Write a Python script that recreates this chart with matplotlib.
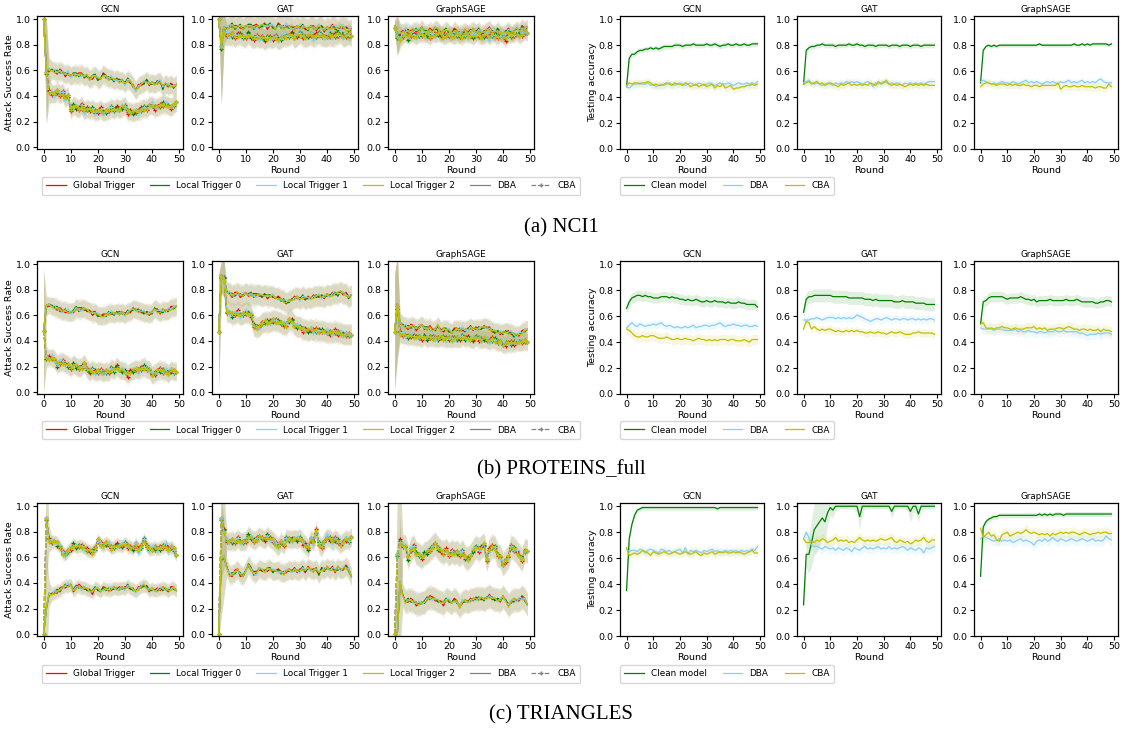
import numpy as np
import matplotlib
matplotlib.use('Agg')
import matplotlib.pyplot as plt
from matplotlib.lines import Line2D

W, H = 1123, 729
rounds = np.arange(50)
models = ['GCN', 'GAT', 'GraphSAGE']
trigger_names = ['Global Trigger', 'Local Trigger 0', 'Local Trigger 1', 'Local Trigger 2']
trigger_colors = ['#ff0000', '#008000', '#87cefa', '#bfbf00']
captions = ['(a) NCI1', '(b) PROTEINS_full', '(c) TRIANGLES']

# small per-trigger deviations around each group's mean curve (read visually)
off_red = [0.00,0.01,-0.01,0.01,0.00,-0.01,0.02,0.01,-0.02,0.00, 0.01,-0.01,0.00,0.02,0.01,-0.01,0.00,0.01,-0.02,0.01,
           0.00,-0.01,0.02,0.01,0.00,-0.01,0.01,0.00,0.02,-0.01, 0.01,0.00,-0.01,0.01,0.00,0.02,-0.01,0.00,0.01,-0.02,
           0.01,0.00,0.02,-0.01,0.01,0.00,-0.01,0.02,0.01,0.00]
off_green = [0.00,-0.01,0.01,0.00,0.01,0.02,-0.01,0.00,0.01,-0.01, 0.00,0.01,0.02,-0.01,0.00,0.01,-0.01,0.00,0.01,0.02,
             -0.01,0.00,0.01,-0.01,0.02,0.00,-0.01,0.01,0.00,0.01, -0.01,0.02,0.00,-0.01,0.01,0.00,0.01,-0.01,0.02,0.00,
             -0.01,0.01,0.00,0.01,-0.02,0.01,0.00,0.01,-0.01,0.00]
off_blue = [0.00,0.00,0.01,-0.01,0.02,0.00,0.01,-0.01,0.00,0.02, -0.01,0.00,0.01,0.00,-0.02,0.01,0.01,-0.01,0.00,0.01,
            0.02,0.00,-0.01,0.00,0.01,0.02,0.00,-0.01,0.01,0.00, -0.02,0.01,0.01,0.00,-0.01,0.01,0.00,0.02,-0.01,0.01,
            0.00,-0.01,0.01,0.02,0.00,-0.01,0.02,0.00,0.01,0.00]
off_yellow = [0.00,0.01,0.00,0.00,-0.01,0.01,0.00,0.01,0.00,-0.01, 0.01,0.00,-0.01,0.01,0.00,0.00,0.01,-0.01,0.01,0.00,
              0.01,-0.01,0.00,0.01,-0.01,0.00,0.01,0.00,-0.01,0.01, 0.00,-0.01,0.01,0.00,0.01,-0.01,0.00,0.01,0.00,-0.01,
              0.01,0.00,-0.01,0.00,0.01,0.01,0.00,-0.01,0.00,0.00]

# ---------------- NCI1 ----------------
nci_gcn_dba = [1.00,0.60,0.60,0.60,0.59,0.58,0.59,0.58,0.57,0.58, 0.55,0.57,0.56,0.56,0.57,0.55,0.56,0.53,0.55,0.55,
               0.53,0.54,0.56,0.55,0.53,0.54,0.52,0.53,0.51,0.52, 0.50,0.52,0.51,0.48,0.44,0.47,0.49,0.50,0.51,0.50,
               0.50,0.49,0.50,0.51,0.47,0.49,0.48,0.48,0.47,0.49]
nci_gcn_cba = [1.00,0.58,0.43,0.42,0.41,0.44,0.41,0.42,0.38,0.40, 0.30,0.32,0.31,0.30,0.32,0.28,0.30,0.29,0.29,0.28,
               0.28,0.29,0.27,0.28,0.29,0.30,0.29,0.30,0.30,0.31, 0.31,0.28,0.28,0.27,0.28,0.28,0.29,0.30,0.30,0.32,
               0.33,0.31,0.31,0.32,0.33,0.33,0.32,0.31,0.33,0.35]
nci_gat_dba = [1.00,0.80,0.93,0.92,0.94,0.95,0.93,0.94,0.95,0.93, 0.94,0.95,0.94,0.93,0.95,0.94,0.95,0.96,0.94,0.95,
               0.94,0.93,0.95,0.94,0.93,0.95,0.94,0.93,0.92,0.94, 0.93,0.94,0.93,0.92,0.94,0.93,0.92,0.94,0.93,0.92,
               0.93,0.92,0.94,0.93,0.92,0.93,0.94,0.92,0.91,0.92]
nci_gat_cba = [1.00,0.78,0.90,0.88,0.87,0.88,0.86,0.87,0.88,0.86, 0.87,0.88,0.86,0.85,0.86,0.85,0.86,0.84,0.85,0.86,
               0.85,0.86,0.84,0.85,0.87,0.86,0.87,0.88,0.86,0.87, 0.88,0.87,0.86,0.87,0.88,0.86,0.87,0.88,0.87,0.86,
               0.87,0.88,0.86,0.87,0.88,0.89,0.86,0.87,0.88,0.87]
nci_sage_dba = [0.95,0.88,0.89,0.90,0.91,0.90,0.89,0.91,0.92,0.91, 0.93,0.90,0.89,0.91,0.90,0.93,0.92,0.89,0.90,0.91,
                0.90,0.89,0.91,0.90,0.88,0.90,0.91,0.89,0.90,0.92, 0.90,0.91,0.89,0.90,0.91,0.92,0.90,0.89,0.91,0.90,
                0.88,0.90,0.91,0.89,0.90,0.92,0.91,0.93,0.92,0.94]
nci_sage_cba = [0.93,0.86,0.85,0.87,0.88,0.86,0.88,0.87,0.86,0.88, 0.89,0.87,0.88,0.86,0.88,0.87,0.89,0.88,0.86,0.87,
                0.88,0.87,0.86,0.88,0.87,0.86,0.88,0.87,0.88,0.86, 0.87,0.88,0.86,0.87,0.88,0.86,0.88,0.87,0.86,0.88,
                0.87,0.85,0.88,0.87,0.88,0.89,0.87,0.88,0.90,0.89]
nci_asr_sd = [0.07, 0.08, 0.06]
nci_asr_sd_early = [[0.02, 0.40, 0.10], [0.02, 0.45, 0.12], [0.05, 0.15, 0.08]]

nci_gcn_clean = [0.48,0.70,0.73,0.73,0.75,0.76,0.76,0.77,0.77,0.78, 0.77,0.78,0.77,0.78,0.79,0.79,0.79,0.79,0.80,0.80,
                 0.80,0.79,0.80,0.80,0.80,0.81,0.80,0.80,0.80,0.80, 0.81,0.80,0.80,0.81,0.80,0.79,0.80,0.80,0.81,0.80,
                 0.80,0.81,0.80,0.80,0.81,0.80,0.80,0.81,0.81,0.81]
nci_gcn_acc_dba = [0.48,0.47,0.49,0.50,0.50,0.51,0.50,0.50,0.51,0.49, 0.50,0.48,0.49,0.50,0.49,0.50,0.51,0.50,0.49,0.50,
                   0.51,0.50,0.49,0.50,0.51,0.50,0.49,0.51,0.50,0.49, 0.50,0.51,0.50,0.49,0.50,0.51,0.50,0.50,0.51,0.50,
                   0.49,0.50,0.51,0.50,0.50,0.51,0.50,0.51,0.50,0.52]
nci_gcn_acc_cba = [0.49,0.51,0.50,0.51,0.51,0.50,0.51,0.51,0.52,0.51, 0.49,0.50,0.49,0.49,0.50,0.51,0.50,0.49,0.51,0.50,
                   0.50,0.49,0.51,0.50,0.48,0.49,0.50,0.48,0.49,0.50, 0.48,0.49,0.50,0.47,0.49,0.48,0.50,0.47,0.48,0.49,
                   0.46,0.47,0.47,0.48,0.48,0.49,0.49,0.50,0.49,0.50]
nci_gat_clean = [0.50,0.76,0.78,0.79,0.79,0.80,0.80,0.81,0.80,0.80, 0.80,0.80,0.79,0.80,0.80,0.80,0.80,0.81,0.80,0.80,
                 0.81,0.80,0.80,0.79,0.80,0.80,0.80,0.79,0.80,0.80, 0.80,0.80,0.79,0.80,0.80,0.80,0.79,0.80,0.80,0.80,
                 0.79,0.80,0.80,0.80,0.79,0.80,0.80,0.80,0.80,0.80]
nci_gat_acc_dba = [0.51,0.52,0.53,0.51,0.50,0.51,0.50,0.49,0.50,0.51, 0.50,0.49,0.51,0.50,0.51,0.50,0.52,0.51,0.52,0.51,
                   0.52,0.51,0.50,0.51,0.52,0.51,0.48,0.51,0.50,0.51, 0.52,0.51,0.50,0.51,0.50,0.51,0.50,0.49,0.51,0.50,
                   0.51,0.50,0.51,0.50,0.51,0.50,0.51,0.52,0.52,0.52]
nci_gat_acc_cba = [0.50,0.51,0.52,0.50,0.51,0.52,0.50,0.51,0.49,0.50, 0.51,0.50,0.49,0.48,0.50,0.49,0.50,0.51,0.49,0.50,
                   0.49,0.50,0.49,0.50,0.49,0.51,0.50,0.49,0.52,0.50, 0.51,0.53,0.50,0.49,0.50,0.49,0.50,0.49,0.48,0.49,
                   0.50,0.49,0.50,0.49,0.50,0.49,0.50,0.49,0.49,0.49]
nci_sage_clean = [0.51,0.76,0.79,0.80,0.79,0.80,0.79,0.80,0.80,0.80, 0.80,0.80,0.80,0.80,0.80,0.80,0.80,0.80,0.80,0.80,
                  0.80,0.80,0.81,0.80,0.80,0.80,0.80,0.80,0.80,0.80, 0.80,0.80,0.80,0.80,0.80,0.81,0.80,0.80,0.81,0.80,
                  0.81,0.80,0.81,0.81,0.81,0.81,0.81,0.81,0.80,0.81]
nci_sage_acc_dba = [0.52,0.53,0.52,0.51,0.50,0.51,0.50,0.51,0.52,0.51, 0.51,0.50,0.52,0.51,0.50,0.51,0.52,0.53,0.51,0.52,
                    0.51,0.52,0.51,0.50,0.51,0.52,0.51,0.52,0.51,0.50, 0.52,0.51,0.52,0.53,0.51,0.52,0.51,0.52,0.53,0.51,
                    0.52,0.51,0.52,0.51,0.53,0.54,0.52,0.51,0.51,0.51]
nci_sage_acc_cba = [0.48,0.50,0.51,0.51,0.50,0.50,0.49,0.50,0.50,0.50, 0.49,0.50,0.49,0.50,0.49,0.49,0.50,0.49,0.49,0.48,
                    0.49,0.49,0.48,0.49,0.49,0.49,0.49,0.49,0.49,0.51, 0.46,0.48,0.49,0.48,0.48,0.49,0.48,0.48,0.49,0.48,
                    0.48,0.48,0.48,0.47,0.48,0.48,0.47,0.47,0.50,0.48]
nci_acc_sd = [[0.02, 0.03, 0.03], [0.02, 0.03, 0.03], [0.015, 0.025, 0.03]]

# ---------------- PROTEINS_full ----------------
pro_gcn_dba = [0.48,0.67,0.68,0.67,0.66,0.65,0.64,0.63,0.64,0.63, 0.62,0.63,0.65,0.64,0.65,0.65,0.64,0.63,0.62,0.61,
               0.60,0.60,0.59,0.60,0.61,0.62,0.61,0.62,0.61,0.62, 0.61,0.62,0.63,0.65,0.64,0.63,0.63,0.62,0.61,0.62,
               0.62,0.65,0.63,0.62,0.64,0.63,0.64,0.65,0.66,0.67]
pro_gcn_cba = [0.48,0.27,0.26,0.27,0.25,0.22,0.23,0.23,0.22,0.21, 0.20,0.21,0.20,0.19,0.19,0.22,0.18,0.16,0.17,0.16,
               0.16,0.16,0.15,0.16,0.16,0.18,0.17,0.19,0.18,0.17, 0.15,0.14,0.16,0.17,0.18,0.17,0.18,0.19,0.18,0.17,
               0.14,0.15,0.16,0.17,0.16,0.16,0.14,0.17,0.16,0.16]
pro_gat_dba = [0.47,0.90,0.89,0.78,0.77,0.75,0.76,0.77,0.76,0.76, 0.77,0.76,0.76,0.75,0.76,0.76,0.75,0.76,0.75,0.74,
               0.75,0.74,0.73,0.72,0.71,0.70,0.71,0.72,0.73,0.74, 0.73,0.74,0.73,0.74,0.73,0.74,0.75,0.75,0.74,0.75,
               0.76,0.75,0.76,0.77,0.77,0.78,0.77,0.76,0.74,0.76]
pro_gat_cba = [0.47,0.90,0.88,0.63,0.62,0.61,0.61,0.62,0.60,0.61, 0.63,0.61,0.60,0.52,0.50,0.51,0.54,0.55,0.54,0.55,
               0.56,0.55,0.55,0.54,0.53,0.52,0.56,0.55,0.53,0.51, 0.50,0.49,0.49,0.48,0.49,0.48,0.48,0.47,0.48,0.47,
               0.47,0.47,0.46,0.47,0.46,0.46,0.45,0.45,0.45,0.45]
pro_sage_dba = [0.47,0.68,0.54,0.52,0.51,0.50,0.51,0.51,0.50,0.51, 0.52,0.50,0.49,0.50,0.48,0.49,0.52,0.48,0.49,0.48,
                0.48,0.47,0.48,0.49,0.48,0.49,0.48,0.49,0.50,0.49, 0.50,0.49,0.50,0.51,0.50,0.49,0.48,0.47,0.46,0.47,
                0.46,0.47,0.46,0.46,0.45,0.44,0.45,0.46,0.48,0.49]
pro_sage_cba = [0.47,0.66,0.46,0.45,0.44,0.44,0.44,0.43,0.43,0.43, 0.43,0.43,0.42,0.43,0.42,0.42,0.42,0.43,0.42,0.42,
                0.42,0.41,0.42,0.42,0.42,0.43,0.42,0.42,0.42,0.41, 0.42,0.42,0.41,0.42,0.41,0.40,0.41,0.40,0.39,0.39,
                0.38,0.38,0.38,0.38,0.38,0.39,0.39,0.39,0.40,0.39]
pro_asr_sd = [0.07, 0.08, 0.07]
pro_asr_sd_early = [[0.48, 0.08, 0.06], [0.45, 0.12, 0.15], [0.45, 0.40, 0.08]]

pro_gcn_clean = [0.66,0.71,0.74,0.75,0.76,0.76,0.75,0.76,0.75,0.75, 0.74,0.74,0.74,0.75,0.75,0.75,0.74,0.75,0.74,0.74,
                 0.73,0.73,0.72,0.73,0.72,0.72,0.73,0.72,0.71,0.71, 0.72,0.71,0.71,0.72,0.71,0.71,0.71,0.70,0.71,0.70,
                 0.70,0.70,0.71,0.70,0.70,0.69,0.69,0.69,0.69,0.67]
pro_gcn_acc_dba = [0.51,0.53,0.55,0.53,0.52,0.54,0.53,0.52,0.53,0.53, 0.54,0.53,0.54,0.55,0.53,0.52,0.53,0.52,0.51,0.52,
                   0.51,0.51,0.52,0.51,0.52,0.53,0.51,0.52,0.52,0.53, 0.53,0.52,0.53,0.53,0.54,0.55,0.53,0.52,0.53,0.53,
                   0.54,0.53,0.53,0.52,0.53,0.53,0.52,0.52,0.53,0.52]
pro_gcn_acc_cba = [0.50,0.49,0.47,0.45,0.44,0.44,0.45,0.44,0.44,0.45, 0.45,0.44,0.43,0.43,0.43,0.44,0.43,0.42,0.42,0.43,
                   0.42,0.42,0.43,0.42,0.42,0.41,0.42,0.43,0.42,0.42, 0.41,0.42,0.41,0.42,0.41,0.42,0.42,0.42,0.41,0.42,
                   0.42,0.41,0.41,0.41,0.42,0.41,0.40,0.42,0.42,0.42]
pro_gat_clean = [0.63,0.73,0.75,0.75,0.76,0.76,0.76,0.76,0.76,0.76, 0.76,0.75,0.75,0.75,0.75,0.75,0.75,0.74,0.74,0.74,
                 0.74,0.74,0.74,0.73,0.73,0.73,0.72,0.73,0.72,0.72, 0.72,0.72,0.72,0.72,0.71,0.71,0.71,0.72,0.71,0.71,
                 0.71,0.71,0.70,0.70,0.70,0.70,0.69,0.69,0.69,0.69]
pro_gat_acc_dba = [0.57,0.57,0.57,0.58,0.58,0.59,0.58,0.57,0.58,0.59, 0.59,0.59,0.58,0.59,0.58,0.59,0.58,0.59,0.58,0.59,
                   0.61,0.60,0.59,0.58,0.57,0.56,0.57,0.58,0.58,0.57, 0.58,0.59,0.58,0.57,0.58,0.58,0.57,0.58,0.58,0.57,
                   0.58,0.58,0.57,0.58,0.57,0.58,0.57,0.58,0.58,0.57]
pro_gat_acc_cba = [0.50,0.56,0.55,0.50,0.52,0.50,0.49,0.50,0.49,0.50, 0.50,0.49,0.48,0.49,0.48,0.48,0.49,0.48,0.49,0.48,
                   0.49,0.48,0.48,0.47,0.47,0.48,0.47,0.47,0.48,0.47, 0.47,0.46,0.47,0.48,0.47,0.47,0.48,0.47,0.46,0.46,
                   0.46,0.47,0.47,0.48,0.47,0.47,0.47,0.47,0.47,0.46]
pro_sage_clean = [0.54,0.71,0.72,0.74,0.75,0.75,0.75,0.75,0.75,0.74, 0.73,0.74,0.74,0.74,0.74,0.75,0.74,0.73,0.73,0.72,
                  0.73,0.71,0.72,0.72,0.72,0.72,0.73,0.72,0.72,0.72, 0.72,0.72,0.73,0.72,0.72,0.72,0.73,0.72,0.71,0.71,
                  0.71,0.71,0.71,0.70,0.70,0.71,0.71,0.72,0.72,0.71]
pro_sage_acc_dba = [0.51,0.50,0.50,0.51,0.50,0.49,0.50,0.50,0.50,0.49, 0.49,0.49,0.49,0.50,0.48,0.49,0.48,0.48,0.49,0.48,
                    0.48,0.47,0.48,0.48,0.47,0.48,0.48,0.48,0.49,0.48, 0.48,0.49,0.48,0.48,0.48,0.48,0.48,0.47,0.47,0.46,
                    0.45,0.46,0.46,0.46,0.47,0.46,0.47,0.47,0.47,0.46]
pro_sage_acc_cba = [0.54,0.55,0.51,0.50,0.51,0.50,0.51,0.51,0.52,0.51, 0.51,0.50,0.50,0.51,0.50,0.50,0.50,0.51,0.51,0.51,
                    0.52,0.50,0.51,0.50,0.51,0.49,0.50,0.50,0.50,0.51, 0.51,0.50,0.51,0.52,0.51,0.50,0.50,0.49,0.50,0.50,
                    0.49,0.50,0.49,0.49,0.50,0.48,0.50,0.49,0.49,0.48]
pro_acc_sd = [[0.04, 0.03, 0.04], [0.05, 0.03, 0.03], [0.04, 0.04, 0.04]]

# ---------------- TRIANGLES ----------------
tri_gcn_cba = [0.00,0.90,0.73,0.72,0.72,0.71,0.68,0.63,0.62,0.65, 0.68,0.69,0.68,0.69,0.68,0.67,0.66,0.65,0.64,0.67,
               0.73,0.70,0.69,0.71,0.70,0.67,0.68,0.69,0.70,0.69, 0.70,0.69,0.68,0.67,0.70,0.66,0.68,0.73,0.69,0.66,
               0.67,0.68,0.66,0.67,0.68,0.69,0.66,0.68,0.66,0.62]
tri_gcn_dba = [0.00,0.20,0.31,0.31,0.32,0.33,0.34,0.36,0.38,0.38, 0.38,0.34,0.36,0.37,0.36,0.36,0.35,0.34,0.33,0.35,
               0.35,0.34,0.35,0.35,0.34,0.35,0.36,0.35,0.35,0.36, 0.36,0.37,0.36,0.35,0.33,0.35,0.37,0.38,0.36,0.35,
               0.35,0.34,0.34,0.35,0.36,0.35,0.34,0.35,0.36,0.34]
tri_gat_cba = [0.00,0.90,0.80,0.73,0.72,0.73,0.72,0.74,0.72,0.72, 0.74,0.76,0.75,0.73,0.74,0.76,0.75,0.74,0.76,0.75,
               0.73,0.70,0.68,0.72,0.70,0.74,0.74,0.73,0.75,0.74, 0.74,0.72,0.70,0.67,0.74,0.72,0.80,0.70,0.68,0.72,
               0.76,0.75,0.72,0.74,0.72,0.70,0.72,0.74,0.73,0.76]
tri_gat_dba = [0.00,0.58,0.60,0.52,0.46,0.46,0.48,0.50,0.47,0.46, 0.49,0.54,0.50,0.47,0.48,0.51,0.50,0.49,0.51,0.50,
               0.49,0.50,0.49,0.48,0.47,0.49,0.50,0.49,0.50,0.49, 0.50,0.51,0.49,0.52,0.50,0.49,0.51,0.47,0.50,0.51,
               0.52,0.50,0.51,0.49,0.52,0.50,0.51,0.52,0.50,0.45]
tri_sage_cba = [0.00,0.62,0.72,0.69,0.68,0.60,0.66,0.68,0.63,0.62, 0.61,0.62,0.64,0.66,0.68,0.70,0.67,0.65,0.63,0.66,
                0.62,0.64,0.63,0.64,0.62,0.64,0.60,0.58,0.62,0.65, 0.67,0.66,0.68,0.70,0.58,0.66,0.68,0.67,0.62,0.60,
                0.55,0.58,0.60,0.68,0.66,0.64,0.61,0.58,0.65,0.65]
tri_sage_dba = [0.00,0.00,0.40,0.30,0.25,0.26,0.26,0.25,0.24,0.24, 0.24,0.25,0.27,0.28,0.28,0.27,0.26,0.25,0.24,0.26,
                0.26,0.25,0.26,0.25,0.21,0.25,0.26,0.25,0.26,0.27, 0.28,0.27,0.28,0.27,0.28,0.29,0.28,0.27,0.26,0.27,
                0.29,0.26,0.22,0.25,0.27,0.26,0.27,0.28,0.27,0.23]
tri_asr_sd = [0.05, 0.07, 0.09]
tri_asr_sd_early = [[0.05, 0.45, 0.10], [0.05, 0.45, 0.30], [0.05, 0.45, 0.50]]

tri_gcn_clean = [0.35,0.75,0.86,0.93,0.97,0.98,0.99,0.99,0.99,0.99, 0.99,0.99,0.99,0.99,0.99,0.99,0.99,0.99,0.99,0.99,
                 0.99,0.99,0.99,0.99,0.99,0.99,0.99,0.99,0.99,0.99, 0.99,0.99,0.99,0.99,0.98,0.99,0.99,0.99,0.99,0.99,
                 0.99,0.99,0.99,0.99,0.99,0.99,0.99,0.99,0.99,0.99]
tri_gcn_acc_dba = [0.67,0.65,0.66,0.66,0.65,0.67,0.66,0.64,0.66,0.67, 0.66,0.65,0.64,0.67,0.66,0.65,0.66,0.64,0.65,0.66,
                   0.67,0.64,0.68,0.63,0.66,0.65,0.66,0.65,0.64,0.66, 0.65,0.66,0.67,0.65,0.66,0.64,0.65,0.66,0.65,0.66,
                   0.65,0.66,0.64,0.66,0.65,0.66,0.65,0.67,0.66,0.69]
tri_gcn_acc_cba = [0.68,0.62,0.63,0.64,0.63,0.64,0.66,0.65,0.64,0.62, 0.65,0.64,0.63,0.64,0.65,0.64,0.63,0.64,0.65,0.64,
                   0.63,0.64,0.65,0.64,0.63,0.64,0.65,0.63,0.62,0.64, 0.63,0.64,0.65,0.63,0.64,0.65,0.64,0.65,0.64,0.64,
                   0.65,0.64,0.65,0.64,0.63,0.64,0.65,0.66,0.64,0.64]
tri_gat_clean = [0.24,0.63,0.63,0.72,0.82,0.85,0.88,0.91,0.88,0.95, 0.99,0.97,1.00,1.00,1.00,1.00,1.00,1.00,1.00,1.00,
                 1.00,0.92,1.00,1.00,1.00,1.00,1.00,1.00,1.00,1.00, 1.00,1.00,1.00,0.96,1.00,1.00,1.00,1.00,1.00,1.00,
                 0.96,1.00,1.00,0.94,1.00,1.00,1.00,1.00,1.00,1.00]
tri_gat_acc_dba = [0.75,0.80,0.76,0.70,0.69,0.69,0.68,0.67,0.69,0.68, 0.67,0.68,0.66,0.68,0.67,0.66,0.68,0.67,0.65,0.68,
                   0.67,0.66,0.68,0.69,0.67,0.68,0.67,0.68,0.69,0.67, 0.68,0.67,0.69,0.67,0.68,0.67,0.68,0.69,0.68,0.66,
                   0.68,0.67,0.66,0.68,0.67,0.64,0.68,0.67,0.68,0.69]
tri_gat_acc_cba = [0.75,0.72,0.72,0.73,0.72,0.74,0.73,0.75,0.74,0.72, 0.73,0.74,0.76,0.73,0.74,0.73,0.74,0.72,0.73,0.72,
                   0.74,0.76,0.74,0.73,0.74,0.73,0.74,0.73,0.74,0.75, 0.74,0.74,0.75,0.76,0.73,0.72,0.74,0.73,0.72,0.73,
                   0.71,0.72,0.74,0.73,0.74,0.76,0.73,0.72,0.74,0.74]
tri_sage_clean = [0.46,0.84,0.88,0.90,0.91,0.92,0.92,0.93,0.93,0.93, 0.93,0.93,0.93,0.93,0.93,0.93,0.93,0.93,0.93,0.93,
                  0.93,0.93,0.94,0.93,0.94,0.93,0.94,0.93,0.94,0.94, 0.94,0.93,0.94,0.94,0.94,0.94,0.94,0.94,0.94,0.94,
                  0.94,0.94,0.94,0.94,0.94,0.94,0.94,0.94,0.94,0.94]
tri_sage_acc_dba = [0.75,0.77,0.76,0.75,0.74,0.73,0.74,0.75,0.73,0.74, 0.73,0.74,0.72,0.73,0.74,0.75,0.73,0.74,0.73,0.72,
                    0.70,0.73,0.74,0.73,0.75,0.73,0.74,0.76,0.74,0.73, 0.75,0.74,0.73,0.74,0.75,0.74,0.73,0.74,0.75,0.74,
                    0.73,0.74,0.75,0.73,0.74,0.73,0.74,0.77,0.75,0.74]
tri_sage_acc_cba = [0.83,0.76,0.78,0.80,0.77,0.78,0.74,0.73,0.78,0.79, 0.80,0.77,0.78,0.79,0.80,0.79,0.80,0.82,0.80,0.79,
                    0.80,0.79,0.78,0.79,0.78,0.79,0.77,0.79,0.78,0.79, 0.80,0.79,0.80,0.79,0.80,0.80,0.79,0.78,0.79,0.80,
                    0.79,0.78,0.79,0.79,0.80,0.79,0.80,0.80,0.79,0.79]
tri_acc_sd = [[0.02, 0.03, 0.03], [0.05, 0.04, 0.04], [0.02, 0.04, 0.04]]
tri_gat_clean_sd = [0.05,0.10,0.15,0.18,0.20,0.20,0.18,0.15,0.15,0.10, 0.06,0.06,0.03,0.02,0.02,0.02,0.02,0.02,0.02,0.03,
                    0.05,0.10,0.04,0.02,0.02,0.02,0.02,0.02,0.02,0.02, 0.02,0.02,0.03,0.05,0.03,0.02,0.02,0.02,0.02,0.04,
                    0.08,0.05,0.05,0.06,0.03,0.02,0.02,0.02,0.02,0.02]

asr_rows = [
    [(nci_gcn_dba, nci_gcn_cba), (nci_gat_dba, nci_gat_cba), (nci_sage_dba, nci_sage_cba)],
    [(pro_gcn_dba, pro_gcn_cba), (pro_gat_dba, pro_gat_cba), (pro_sage_dba, pro_sage_cba)],
    [(tri_gcn_dba, tri_gcn_cba), (tri_gat_dba, tri_gat_cba), (tri_sage_dba, tri_sage_cba)],
]
asr_sd_rows = [nci_asr_sd, pro_asr_sd, tri_asr_sd]
asr_sd_early_rows = [nci_asr_sd_early, pro_asr_sd_early, tri_asr_sd_early]
acc_rows = [
    [(nci_gcn_clean, nci_gcn_acc_dba, nci_gcn_acc_cba), (nci_gat_clean, nci_gat_acc_dba, nci_gat_acc_cba),
     (nci_sage_clean, nci_sage_acc_dba, nci_sage_acc_cba)],
    [(pro_gcn_clean, pro_gcn_acc_dba, pro_gcn_acc_cba), (pro_gat_clean, pro_gat_acc_dba, pro_gat_acc_cba),
     (pro_sage_clean, pro_sage_acc_dba, pro_sage_acc_cba)],
    [(tri_gcn_clean, tri_gcn_acc_dba, tri_gcn_acc_cba), (tri_gat_clean, tri_gat_acc_dba, tri_gat_acc_cba),
     (tri_sage_clean, tri_sage_acc_dba, tri_sage_acc_cba)],
]
acc_sd_rows = [nci_acc_sd, pro_acc_sd, tri_acc_sd]
offsets = [off_red, off_green, off_blue, off_yellow]

# ---------------- drawing ----------------
fig = plt.figure(figsize=(W / 100, H / 100), dpi=100)
FS = 6.8

def px_axes(x, y, w, h):
    return fig.add_axes([x / W, 1 - (y + h) / H, w / W, h / H])

def style(ax, title, ylabel, bottom):
    ax.set_title(title, fontsize=6.3, pad=3)
    ax.set_xlabel('Round', fontsize=FS, labelpad=1)
    if ylabel:
        ax.set_ylabel(ylabel, fontsize=FS, labelpad=1)
    ax.set_xticks([0, 10, 20, 30, 40, 50])
    ax.set_yticks([0, 0.2, 0.4, 0.6, 0.8, 1.0])
    ax.set_xlim(-2.45, 51.45)
    ax.set_ylim(bottom, 1.025)
    ax.tick_params(labelsize=FS, length=3, width=0.8, pad=1.5)
    for s in ax.spines.values():
        s.set_linewidth(0.9)

def sd_profile(early, base):
    return np.array(list(early) + [base] * (50 - len(early)))

left_x = [37, 212, 388]
right_x = [620, 797, 974]
row_y = [16, 261, 503]
AW, AH = 146, 133
tri_clean_sd_arr = np.array(tri_gat_clean_sd)

for r in range(3):
    for m in range(3):
        ax = px_axes(left_x[m], row_y[r], AW, AH)
        dba, cba = asr_rows[r][m]
        sd = sd_profile(asr_sd_early_rows[r][m], asr_sd_rows[r][m])
        curves = []
        for k in range(4):
            off = np.array(offsets[k])
            yd = np.clip(np.array(dba) + off, 0, 1)
            yc = np.clip(np.array(cba) + off[::-1], 0, 1)
            curves.append((yd, yc))
            ax.fill_between(rounds, yd - sd, yd + sd, color=trigger_colors[k], alpha=0.09, lw=0)
            ax.fill_between(rounds, yc - sd, yc + sd, color=trigger_colors[k], alpha=0.09, lw=0)
        for k in range(4):
            yd, yc = curves[k]
            ax.plot(rounds, yd, color=trigger_colors[k], lw=0.9)
            ax.plot(rounds, yc, color=trigger_colors[k], lw=0.9, ls='--', marker='+', ms=3.5, mew=0.9)
        style(ax, models[m], 'Attack Success Rate' if m == 0 else None, -0.015)

        ax2 = px_axes(right_x[m], row_y[r], 144, AH)
        clean, adba, acba = acc_rows[r][m]
        sds = acc_sd_rows[r][m]
        clean_sd = tri_clean_sd_arr if (r == 2 and m == 1) else np.full(50, sds[0])
        for y, s, c in [(clean, clean_sd, '#008000'), (adba, sds[1], '#87cefa'), (acba, sds[2], '#bfbf00')]:
            y = np.array(y)
            ax2.fill_between(rounds, y - s, y + s, color=c, alpha=0.12, lw=0)
        for y, c in [(clean, '#008000'), (adba, '#87cefa'), (acba, '#bfbf00')]:
            ax2.plot(rounds, y, color=c, lw=0.9)
        style(ax2, models[m], 'Testing accuracy' if m == 0 else None, 0.0)

    # legends
    cy = [186, 430, 674][r]
    handles = [Line2D([], [], color=c, lw=0.9) for c in trigger_colors]
    handles += [Line2D([], [], color='gray', lw=0.9),
                Line2D([], [], color='gray', lw=0.9, ls='--', marker='+', ms=3)]
    labels = trigger_names + ['DBA', 'CBA']
    fig.legend(handles, labels, loc='center', bbox_to_anchor=(311 / W, 1 - cy / H), ncol=6,
               fontsize=6.4, handlelength=2.2, columnspacing=1.7, handletextpad=0.8,
               borderpad=0.5, frameon=True)
    h2 = [Line2D([], [], color='#008000', lw=0.9), Line2D([], [], color='#87cefa', lw=0.9),
          Line2D([], [], color='#bfbf00', lw=0.9)]
    fig.legend(h2, ['Clean model', 'DBA', 'CBA'], loc='center', bbox_to_anchor=(727 / W, 1 - cy / H),
               ncol=3, fontsize=6.4, handlelength=2.2, columnspacing=1.8, handletextpad=0.8,
               borderpad=0.5, frameon=True)
    # caption
    fig.text(561 / W, 1 - [228, 470, 715][r] / H, captions[r], ha='center', va='center',
             fontsize=15, family='Liberation Serif')

fig.savefig('out.png', dpi=100)
